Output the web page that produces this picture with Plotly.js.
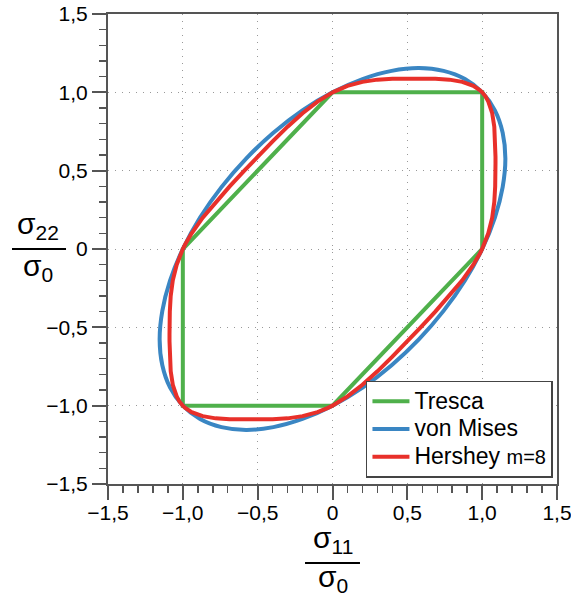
<!DOCTYPE html>
<html><head><meta charset="utf-8">
<script src="https://cdn.plot.ly/plotly-3.0.1.min.js"></script>
<style>html,body{margin:0;padding:0;background:#fff}</style>
</head><body>
<div id="chart" style="width:571px;height:597px"></div>
<script>
// Tresca hexagon
const trescaX = [1, 1, 0, -1, -1, 0, 1];
const trescaY = [0, 1, 1, 0, -1, -1, 0];
// von Mises ellipse
const misesX = [1, 1.085, 1.137, 1.155, 1.137, 1.085, 1, 0.885, 0.742, 0.577, 0.395, 0.201, 0, -0.201, -0.395, -0.577, -0.742, -0.885, -1, -1.085, -1.137, -1.155, -1.137, -1.085, -1, -0.885, -0.742, -0.577, -0.395, -0.201, 0, 0.201, 0.395, 0.577, 0.742, 0.885, 1];
const misesY = [1, 0.885, 0.742, 0.577, 0.395, 0.201, 0, -0.201, -0.395, -0.577, -0.742, -0.885, -1, -1.085, -1.137, -1.155, -1.137, -1.085, -1, -0.885, -0.742, -0.577, -0.395, -0.201, 0, 0.201, 0.395, 0.577, 0.742, 0.885, 1, 1.085, 1.137, 1.155, 1.137, 1.085, 1];
// Hershey m=8
const hersheyX = [0, 0.03, 0.05, 0.1, 0.2, 0.3, 0.4, 0.5, 0.545, 0.589, 0.687, 0.781, 0.867, 0.941, 0.973, 0.984, 1,
  1.014, 1.023, 1.041, 1.067, 1.081, 1.087, 1.089, 1.089, 1.089, 1.087, 1.081, 1.067, 1.041, 1.023, 1.014, 1,
  0.984, 0.973, 0.941, 0.867, 0.781, 0.687, 0.589, 0.545, 0.5, 0.4, 0.3, 0.2, 0.1, 0.05, 0.03, 0,
  -0.03, -0.05, -0.1, -0.2, -0.3, -0.4, -0.5, -0.545, -0.589, -0.687, -0.781, -0.867, -0.941, -0.973, -0.984, -1,
  -1.014, -1.023, -1.041, -1.067, -1.081, -1.087, -1.089, -1.089, -1.089, -1.087, -1.081, -1.067, -1.041, -1.023, -1.014, -1,
  -0.984, -0.973, -0.941, -0.867, -0.781, -0.687, -0.589, -0.545, -0.5, -0.4, -0.3, -0.2, -0.1, -0.05, -0.03, 0];
const hersheyY = [1, 1.014, 1.023, 1.041, 1.067, 1.081, 1.087, 1.089, 1.089, 1.089, 1.087, 1.081, 1.067, 1.041, 1.023, 1.014, 1,
  0.984, 0.973, 0.941, 0.867, 0.781, 0.687, 0.589, 0.545, 0.5, 0.4, 0.3, 0.2, 0.1, 0.05, 0.03, 0,
  -0.03, -0.05, -0.1, -0.2, -0.3, -0.4, -0.5, -0.545, -0.589, -0.687, -0.781, -0.867, -0.941, -0.973, -0.984, -1,
  -1.014, -1.023, -1.041, -1.067, -1.081, -1.087, -1.089, -1.089, -1.089, -1.087, -1.081, -1.067, -1.041, -1.023, -1.014, -1,
  -0.984, -0.973, -0.941, -0.867, -0.781, -0.687, -0.589, -0.545, -0.5, -0.4, -0.3, -0.2, -0.1, -0.05, -0.03, 0,
  0.03, 0.05, 0.1, 0.2, 0.3, 0.4, 0.5, 0.545, 0.589, 0.687, 0.781, 0.867, 0.941, 0.973, 0.984, 1];
const tickVals = [-1.5, -1, -0.5, 0, 0.5, 1, 1.5];
const tickText = ['\u22121,5', '\u22121,0', '\u22120,5', '0', '0,5', '1,0', '1,5'];

const FONT = 'Liberation Sans, Arial, Helvetica, sans-serif';
const big = s => '<span style="font-size:23px">' + s + '</span>';
const traces = [
  {x: trescaX, y: trescaY, mode: 'lines', name: big('Tresca'), line: {color: '#4fb04b', width: 4}},
  {x: misesX, y: misesY, mode: 'lines', name: big('von Mises'), line: {color: '#3a86c3', width: 4, shape: 'spline', smoothing: 1}},
  {x: hersheyX, y: hersheyY, mode: 'lines', name: big('Hershey ') + '<span style="font-size:20px">m=8</span>', line: {color: '#e8302a', width: 4}}
];
function axis() {
  return {
    range: [-1.5, 1.5], tickvals: tickVals, ticktext: tickText,
    ticks: 'outside', ticklen: 14, tickwidth: 2, tickcolor: '#555',
    showline: true, linecolor: '#555', linewidth: 2, mirror: true,
    showgrid: true, gridcolor: '#999', gridwidth: 1, griddash: '1px,6px',
    zeroline: false, tickfont: {family: FONT, size: 21, color: '#000'},
    ticklabeloverflow: 'allow',
    minor: {dtick: 0.1, tick0: 0, ticks: 'outside', ticklen: 7, tickwidth: 1.5, tickcolor: '#555', showgrid: false},
    fixedrange: true
  };
}
const xa = axis(); xa.ticklabelstandoff = -5;
const layout = {
  width: 571, height: 597,
  margin: {l: 108, r: 14, t: 14, b: 113},
  paper_bgcolor: '#fff', plot_bgcolor: '#fff',
  font: {family: FONT, color: '#000'},
  xaxis: xa, yaxis: axis(),
  showlegend: true,
  legend: {x: 0.991, y: 0.013, xanchor: 'right', yanchor: 'bottom', bgcolor: '#fff', bordercolor: '#444', borderwidth: 1.5,
    font: {family: FONT, size: 19, color: '#000'}, tracegroupgap: 0, itemwidth: 37},
  shapes: [
    {type: 'line', xref: 'paper', yref: 'paper', x0: -0.2138, x1: -0.0935, y0: 0.5, y1: 0.5, line: {color: '#000', width: 2}},
    {type: 'line', xref: 'paper', yref: 'paper', x0: 0.4388, x1: 0.5612, y0: -0.168, y1: -0.168, line: {color: '#000', width: 2}}
  ],
  annotations: [
    {xref: 'paper', yref: 'paper', x: -0.155, y: 0.506, xanchor: 'center', yanchor: 'bottom', showarrow: false, text: 'σ<sub>22</sub>', font: {family: FONT, size: 30}},
    {xref: 'paper', yref: 'paper', x: -0.155, y: 0.505, xanchor: 'center', yanchor: 'top', showarrow: false, text: 'σ<sub>0</sub>', font: {family: FONT, size: 30}},
    {xref: 'paper', yref: 'paper', x: 0.5, y: -0.162, xanchor: 'center', yanchor: 'bottom', showarrow: false, text: 'σ<sub>11</sub>', font: {family: FONT, size: 30}},
    {xref: 'paper', yref: 'paper', x: 0.5, y: -0.158, xanchor: 'center', yanchor: 'top', showarrow: false, text: 'σ<sub>0</sub>', font: {family: FONT, size: 30}}
  ]
};
Plotly.newPlot('chart', traces, layout, {displayModeBar: false, staticPlot: true});
</script>
</body></html>
